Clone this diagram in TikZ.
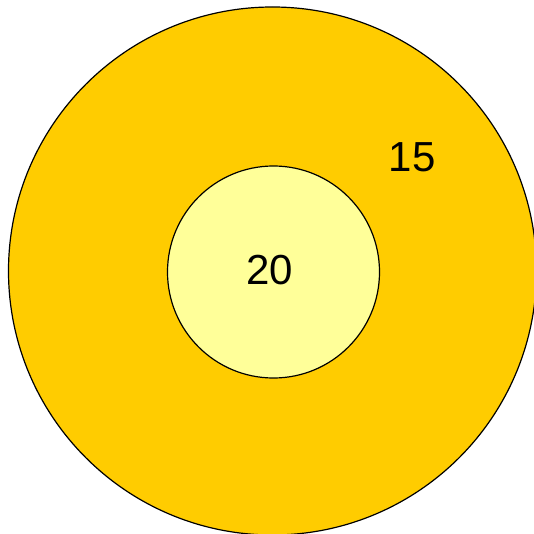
\documentclass[tikz,border=0pt]{standalone}
\usepackage{fontspec}
\setmainfont{Liberation Sans}
\usepackage{xcolor}
\usetikzlibrary{positioning}
\definecolor{ringgold}{HTML}{FFCC00}
\definecolor{corepale}{HTML}{FFFF99}

\begin{document}
\begin{tikzpicture}[x=1pt, y=-1pt,
  ring/.style={circle, draw=black, line width=1.2pt, inner sep=0pt},
  num/.style={inner sep=0pt, font=\fontsize{42}{48}\selectfont}]
  \useasboundingbox (0,0) rectangle (534,534);
  \node[ring, fill=ringgold, minimum size=528pt] (outer) at (272.5,271) {};
  \node[ring, fill=corepale, minimum size=212pt] (inner) at (273.5,272) {};
  \node[num] (inlab) at (269.5,270) {20};
  \node[num] (outlab) at (412,157) {15};
\end{tikzpicture}
\end{document}
